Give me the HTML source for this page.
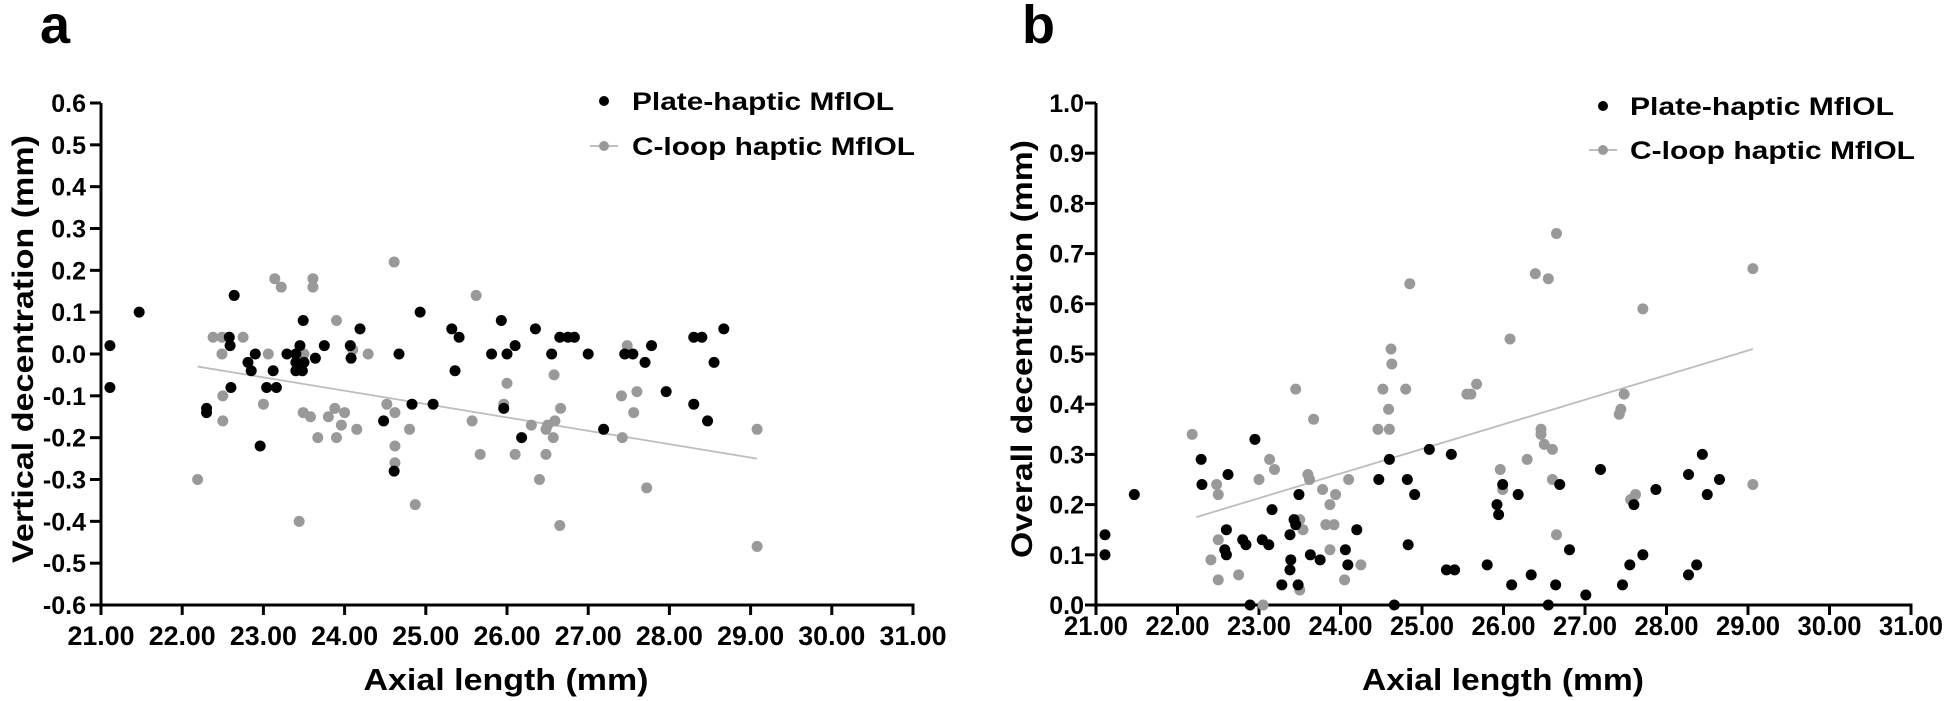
<!DOCTYPE html>
<html><head><meta charset="utf-8"><style>
html,body{margin:0;padding:0;background:#fff;}
svg{display:block;font-family:"Liberation Sans",Arial,sans-serif;font-weight:bold;}
</style></head><body>
<svg id="s" width="1946" height="701" viewBox="0 0 1946 701" xmlns="http://www.w3.org/2000/svg">
<rect width="1946" height="701" fill="#fff"/>
<text x="40" y="43" font-size="54">a</text>
<text x="1022" y="43" font-size="54">b</text>
<g id="A"></g><g id="B"></g>
<text x="506" y="690" font-size="31" text-anchor="middle" textLength="285" lengthAdjust="spacingAndGlyphs">Axial length (mm)</text>
<text x="1503" y="690" font-size="31" text-anchor="middle" textLength="282" lengthAdjust="spacingAndGlyphs">Axial length (mm)</text>
<text transform="translate(33,349) rotate(-90)" font-size="30" text-anchor="middle" textLength="428" lengthAdjust="spacingAndGlyphs">Vertical decentration (mm)</text>
<text transform="translate(1032,349) rotate(-90)" font-size="30" text-anchor="middle" textLength="418" lengthAdjust="spacingAndGlyphs">Overall decentration (mm)</text>
<circle cx="604" cy="101" r="5" fill="#000"/>
<text x="632" y="110" font-size="25" textLength="262" lengthAdjust="spacingAndGlyphs">Plate-haptic MflOL</text>
<line x1="590" y1="146" x2="618" y2="146" stroke="#aaa" stroke-width="1.5"/>
<circle cx="604" cy="146" r="5" fill="#999"/>
<text x="632" y="155" font-size="25" textLength="283" lengthAdjust="spacingAndGlyphs">C-loop haptic MflOL</text>
<circle cx="1603" cy="106" r="5" fill="#000"/>
<text x="1630" y="115" font-size="25" textLength="264" lengthAdjust="spacingAndGlyphs">Plate-haptic MflOL</text>
<line x1="1589" y1="150" x2="1617" y2="150" stroke="#aaa" stroke-width="1.5"/>
<circle cx="1603" cy="150" r="5" fill="#999"/>
<text x="1630" y="159" font-size="25" textLength="285" lengthAdjust="spacingAndGlyphs">C-loop haptic MflOL</text>
</svg>
<script>
var NS="http://www.w3.org/2000/svg";
function el(p,t,a,txt){var e=document.createElementNS(NS,t);for(var k in a)e.setAttribute(k,a[k]);if(txt!==undefined)e.textContent=txt;p.appendChild(e);return e;}
function panel(g,ax,x1,yTop,yBot,ymin,ymax,step,ylab,ylabEnd,xlabY,xlabW,blk,gry,trend){
  var G=document.getElementById(g);
  var X=function(v){return ax+(x1-ax)*(v-21)/10;};
  var Y=function(v){return yBot-(yBot-yTop)*(v-ymin)/(ymax-ymin);};
  el(G,'line',{x1:ax,y1:yTop,x2:ax,y2:yBot+1.5,stroke:'#000','stroke-width':3});
  el(G,'line',{x1:ax-1.5,y1:yBot,x2:x1+1.5,y2:yBot,stroke:'#000','stroke-width':3});
  var n=Math.round((ymax-ymin)/step);
  for(var i=0;i<=n;i++){var v=ymin+i*step,y=Y(v);
    el(G,'line',{x1:ax-11,y1:y,x2:ax,y2:y,stroke:'#000','stroke-width':3});
    var s=v.toFixed(1); if(s==='-0.0')s='0.0';
    el(G,'text',{x:ylabEnd,y:y+9,'font-size':25,'text-anchor':'end'},s);}
  for(var j=0;j<=10;j++){var x=X(21+j);
    el(G,'line',{x1:x,y1:yBot,x2:x,y2:yBot+10,stroke:'#000','stroke-width':3});
    el(G,'text',{x:x,y:xlabY,'font-size':27,'text-anchor':'middle',textLength:xlabW,lengthAdjust:'spacingAndGlyphs'},(21+j).toFixed(2));}
  el(G,'line',{x1:X(trend[0]),y1:Y(trend[1]),x2:X(trend[2]),y2:Y(trend[3]),stroke:'#bdbdbd','stroke-width':1.8});
  gry.forEach(function(p){el(G,'circle',{cx:X(p[0]),cy:Y(p[1]),r:5.5,fill:'#999'});});
  blk.forEach(function(p){el(G,'circle',{cx:X(p[0]),cy:Y(p[1]),r:5.5,fill:'#000'});});
}
var aB=[[21.11,0.02],[21.11,-0.08],[21.47,0.10],[22.3,-0.13],[22.3,-0.14],[22.58,0.04],[22.59,0.02],[22.64,0.14],[22.6,-0.08],[22.81,-0.02],[22.85,-0.04],[22.9,0],[22.96,-0.22],[23.04,-0.08],[23.16,-0.08],[23.12,-0.04],[23.29,0],[23.4,0],[23.4,-0.02],[23.4,-0.04],[23.45,0.02],[23.48,-0.04],[23.5,-0.02],[23.49,0.08],[23.64,-0.01],[23.75,0.02],[24.07,0.02],[24.08,-0.01],[24.19,0.06],[24.48,-0.16],[24.61,-0.28],[24.67,0],[24.83,-0.12],[24.93,0.10],[25.09,-0.12],[25.32,0.06],[25.36,-0.04],[25.41,0.04],[25.81,0],[25.93,0.08],[26.0,0],[26.1,0.02],[25.96,-0.13],[26.18,-0.20],[26.35,0.06],[26.55,0],[26.65,0.04],[26.75,0.04],[26.83,0.04],[27.0,0],[27.19,-0.18],[27.45,0],[27.55,0],[27.7,-0.02],[27.78,0.02],[27.96,-0.09],[28.3,0.04],[28.4,0.04],[28.3,-0.12],[28.47,-0.16],[28.55,-0.02],[28.67,0.06]];
var aG=[[22.38,0.04],[22.49,0.04],[22.49,0],[22.5,-0.10],[22.5,-0.16],[22.75,0.04],[23.0,-0.12],[23.06,0],[23.14,0.18],[23.22,0.16],[23.5,0],[23.49,-0.14],[23.58,-0.15],[23.61,0.18],[23.61,0.16],[23.67,-0.20],[23.8,-0.15],[23.88,-0.13],[24.0,-0.14],[23.9,-0.20],[23.9,0.08],[23.96,-0.17],[24.1,0.01],[24.15,-0.18],[24.29,0],[24.52,-0.12],[24.61,0.22],[24.62,-0.14],[24.62,-0.22],[24.62,-0.26],[24.8,-0.18],[22.19,-0.30],[23.44,-0.40],[24.87,-0.36],[25.67,-0.24],[25.62,0.14],[25.57,-0.16],[25.96,-0.12],[26.0,-0.07],[26.58,-0.05],[27.48,0.02],[26.66,-0.13],[26.3,-0.17],[26.48,-0.18],[26.5,-0.17],[26.59,-0.16],[26.57,-0.20],[26.1,-0.24],[26.48,-0.24],[26.4,-0.30],[26.65,-0.41],[27.41,-0.10],[27.6,-0.09],[27.56,-0.14],[27.42,-0.20],[27.72,-0.32],[29.08,-0.18],[29.08,-0.46]];
var bB=[[21.11,0.14],[21.11,0.10],[21.47,0.22],[22.29,0.29],[22.3,0.24],[22.62,0.26],[22.6,0.15],[22.58,0.11],[22.6,0.10],[22.8,0.13],[22.84,0.12],[22.95,0.33],[22.89,0],[23.04,0.13],[23.12,0.12],[23.16,0.19],[23.28,0.04],[23.38,0.14],[23.39,0.09],[23.38,0.07],[23.43,0.17],[23.45,0.16],[23.49,0.22],[23.48,0.04],[23.63,0.10],[23.75,0.09],[24.06,0.11],[24.09,0.08],[24.2,0.15],[24.47,0.25],[24.6,0.29],[24.66,0],[24.82,0.25],[24.83,0.12],[24.91,0.22],[25.09,0.31],[25.36,0.30],[25.3,0.07],[25.4,0.07],[25.8,0.08],[25.92,0.20],[25.94,0.18],[25.99,0.24],[26.18,0.22],[26.1,0.04],[26.34,0.06],[26.55,0],[26.64,0.04],[26.69,0.24],[26.81,0.11],[27.01,0.02],[27.19,0.27],[27.46,0.04],[27.55,0.08],[27.6,0.20],[27.71,0.10],[27.87,0.23],[28.27,0.26],[28.27,0.06],[28.37,0.08],[28.44,0.30],[28.5,0.22],[28.65,0.25]];
var bG=[[22.18,0.34],[22.48,0.24],[22.5,0.22],[22.5,0.13],[22.41,0.09],[22.5,0.05],[22.75,0.06],[23.0,0.25],[23.05,0],[23.13,0.29],[23.19,0.27],[23.6,0.26],[23.62,0.25],[23.67,0.37],[23.5,0.17],[23.54,0.15],[23.5,0.03],[23.78,0.23],[23.87,0.20],[23.94,0.22],[23.82,0.16],[23.92,0.16],[23.87,0.11],[24.1,0.25],[24.05,0.05],[24.25,0.08],[24.46,0.35],[24.59,0.39],[24.6,0.35],[24.52,0.43],[24.62,0.51],[24.63,0.48],[24.8,0.43],[24.85,0.64],[23.45,0.43],[26.65,0.74],[26.39,0.66],[26.55,0.65],[29.06,0.67],[27.71,0.59],[26.08,0.53],[25.6,0.42],[25.67,0.44],[25.55,0.42],[27.48,0.42],[27.44,0.39],[27.42,0.38],[26.46,0.35],[26.46,0.34],[26.5,0.32],[26.6,0.31],[26.29,0.29],[25.96,0.27],[25.99,0.23],[26.6,0.25],[27.56,0.21],[27.62,0.22],[26.65,0.14],[29.06,0.24]];
panel('A',101,913,103,605,-0.6,0.6,0.1,'',86,645,67,aB,aG,[22.19,-0.03,29.08,-0.25]);
panel('B',1096,1911,103,605,0,1.0,0.1,'',1084,635,64,bB,bG,[22.23,0.175,29.06,0.51]);
</script>
</body></html>
